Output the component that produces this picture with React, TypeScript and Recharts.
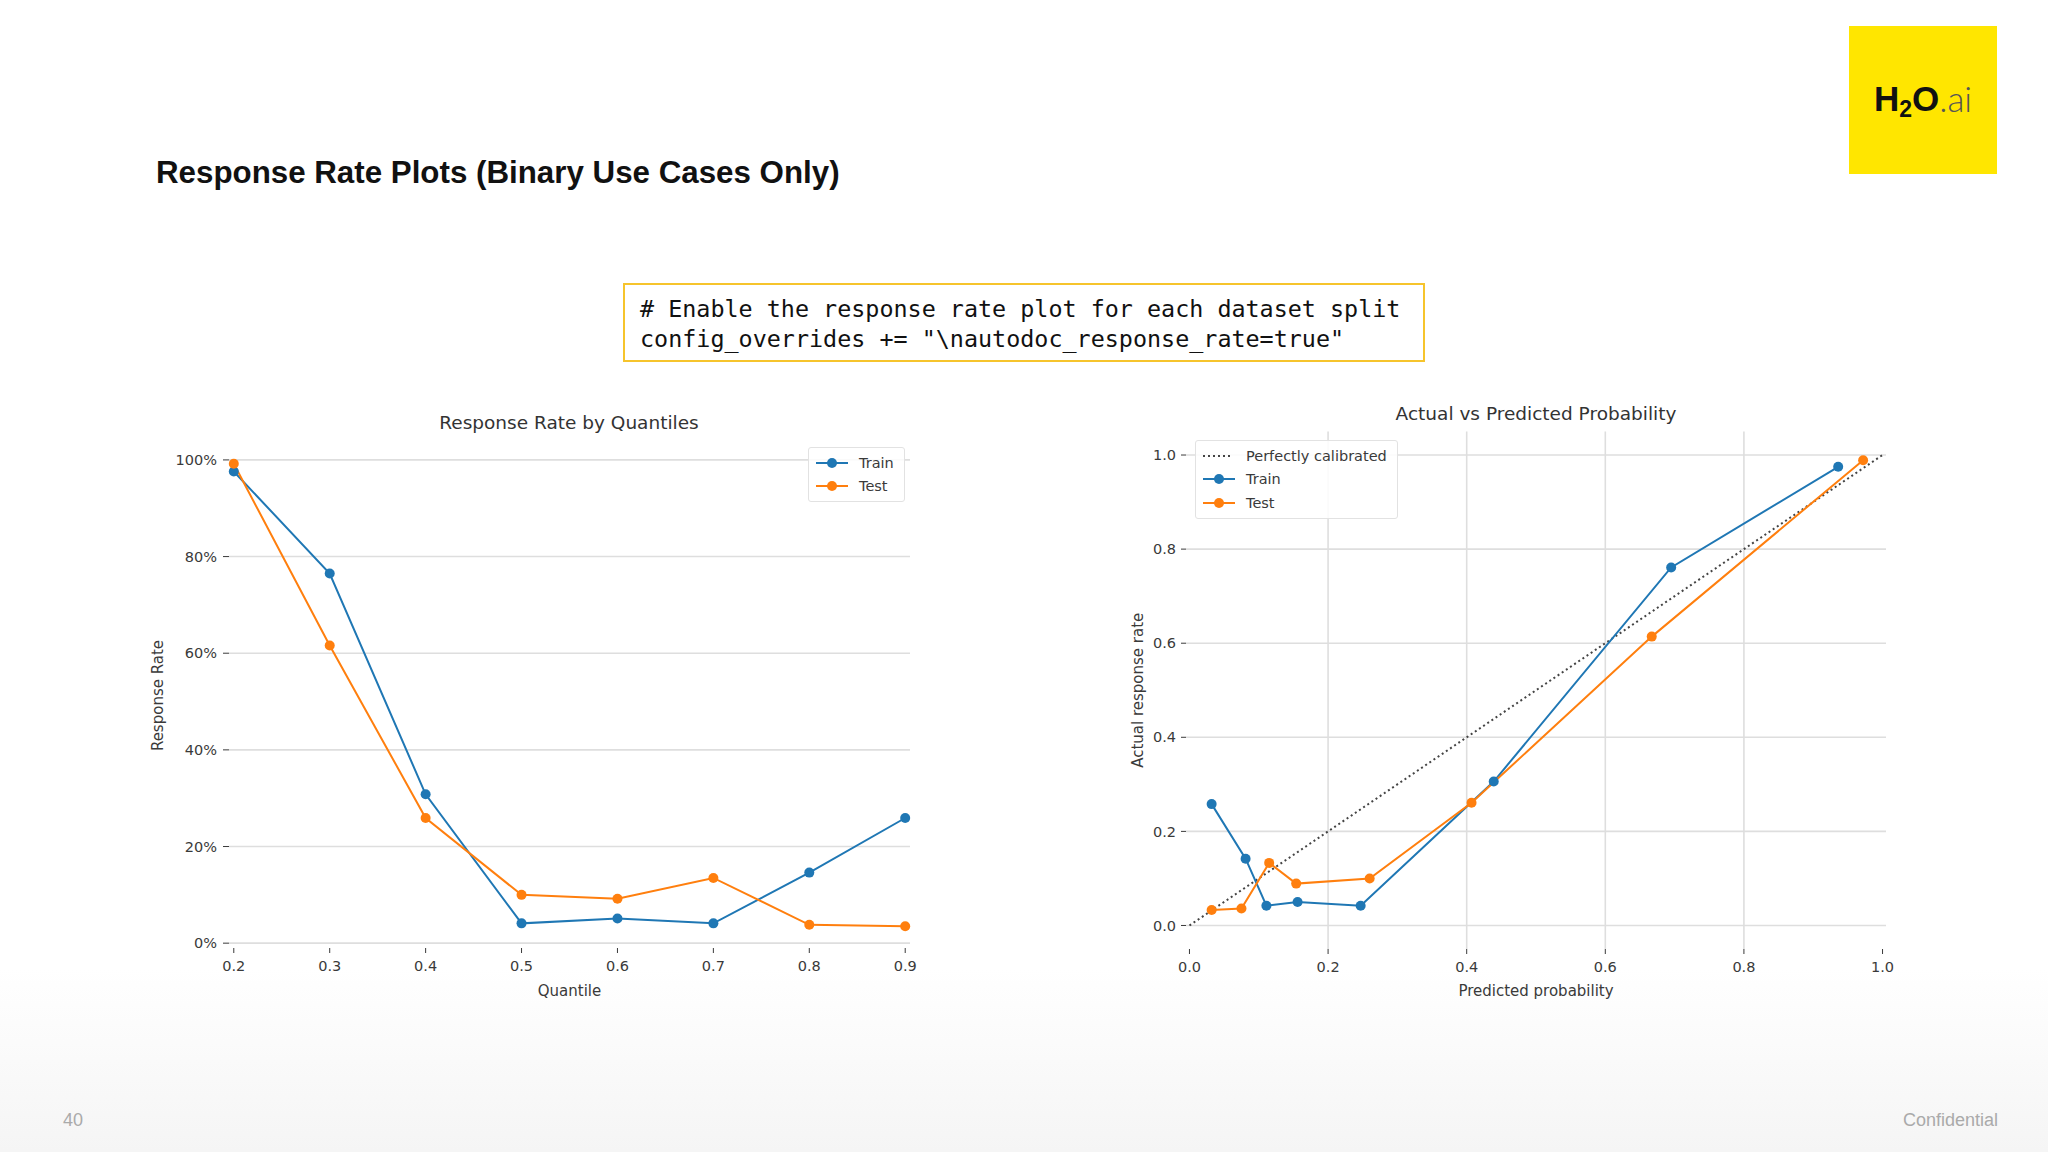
import React from "react";
import {
  Legend,
  Line,
  LineChart,
  ReferenceLine,
  XAxis,
  YAxis,
} from "recharts";

// ---- data ----
const quantiles = [0.2, 0.3, 0.4, 0.5, 0.6, 0.7, 0.8, 0.9];
const trainRate = [97.6, 76.5, 30.8, 4.1, 5.1, 4.1, 14.6, 25.9];
const testRate = [99.2, 61.6, 25.9, 10.0, 9.2, 13.5, 3.8, 3.5];
const rateTicks = [0, 20, 40, 60, 80, 100];

const trainPredicted = [0.032, 0.081, 0.111, 0.156, 0.247, 0.439, 0.695, 0.936];
const trainActual = [0.258, 0.142, 0.042, 0.05, 0.042, 0.306, 0.761, 0.975];
const testPredicted = [0.032, 0.075, 0.115, 0.154, 0.26, 0.407, 0.667, 0.972];
const testActual = [0.033, 0.036, 0.133, 0.089, 0.1, 0.261, 0.614, 0.989];
const calibratedX = [0, 1];
const probTicks = [0, 0.2, 0.4, 0.6, 0.8, 1.0];
const probGridX = [0.2, 0.4, 0.6, 0.8];

const BLUE = "#1f77b4";
const ORANGE = "#ff7f0e";
const GRID = "#dedede";
const TICK = "#3a3a3a";
const MPL_FONT = "'DejaVu Sans', sans-serif";

const rateData = quantiles.map((q, i) => ({ q, train: trainRate[i], test: testRate[i] }));
const trainCal = trainPredicted.map((x, i) => ({ x, y: trainActual[i] }));
const testCal = testPredicted.map((x, i) => ({ x, y: testActual[i] }));
const diagonal = calibratedX.map((x) => ({ x, y: x }));

const tickStyle = { fill: TICK, fontSize: 14.5, fontFamily: MPL_FONT };
const labelStyle = { fill: TICK, fontSize: 15, fontFamily: MPL_FONT, textAnchor: "middle" as const };

function LegendRow({ color, label, dotted }: { color: string; label: string; dotted?: boolean }) {
  return (
    <div style={{ display: "flex", alignItems: "center", height: 23.5 }}>
      <svg width={34} height={12} style={{ marginRight: 10 }}>
        {dotted ? (
          <line x1={1} y1={6} x2={31} y2={6} stroke="#444" strokeWidth={2} strokeDasharray="2 3" />
        ) : (
          <>
            <line x1={1} y1={6} x2={33} y2={6} stroke={color} strokeWidth={2} />
            <circle cx={17} cy={6} r={5} fill={color} />
          </>
        )}
      </svg>
      <span>{label}</span>
    </div>
  );
}

function legendBox(items: { color: string; label: string; dotted?: boolean }[]) {
  return () => (
    <div
      style={{
        border: "1.5px solid #e2e2e2",
        borderRadius: 3,
        background: "rgba(255,255,255,0.85)",
        padding: "3px 10px 3px 6px",
        fontFamily: MPL_FONT,
        fontSize: 14.5,
        color: TICK,
        whiteSpace: "nowrap",
      }}
    >
      {items.map((it) => (
        <LegendRow key={it.label} {...it} />
      ))}
    </div>
  );
}

function RateChart() {
  return (
    <LineChart
      width={780}
      height={610}
      data={rateData}
      margin={{ top: 43, right: 10, bottom: 0, left: 0 }}
    >
      <XAxis
        dataKey="q"
        type="number"
        domain={[0.195, 0.905]}
        ticks={quantiles}
        tickFormatter={(v: number) => v.toFixed(1)}
        axisLine={false}
        tickLine={{ stroke: TICK }}
        tickSize={5}
        tickMargin={8}
        height={62}
        tick={tickStyle}
        label={{ value: "Quantile", position: "insideBottom", offset: 14, style: labelStyle }}
      />
      <YAxis
        type="number"
        domain={[-1, 103.5]}
        ticks={rateTicks}
        tickFormatter={(v: number) => `${v}%`}
        axisLine={false}
        tickLine={{ stroke: TICK }}
        tickSize={6}
        tickMargin={6}
        width={89}
        tick={tickStyle}
        label={{ value: "Response Rate", angle: -90, position: "insideLeft", offset: 18, style: labelStyle }}
      />
      {/* horizontal grid */}
      {rateTicks.map((t) => (
        <ReferenceLine key={t} y={t} stroke={GRID} strokeWidth={1.6} />
      ))}
      <Legend
        layout="vertical"
        verticalAlign="middle"
        align="center"
        wrapperStyle={{ top: 47, left: 668, width: "auto" }}
        content={legendBox([
          { color: BLUE, label: "Train" },
          { color: ORANGE, label: "Test" },
        ])}
      />
      <Line
        dataKey="train"
        name="Train"
        stroke={BLUE}
        strokeWidth={2}
        dot={{ r: 5, fill: BLUE, stroke: BLUE, strokeWidth: 0 }}
        isAnimationActive={false}
      />
      <Line
        dataKey="test"
        name="Test"
        stroke={ORANGE}
        strokeWidth={2}
        dot={{ r: 5, fill: ORANGE, stroke: ORANGE, strokeWidth: 0 }}
        isAnimationActive={false}
      />
    </LineChart>
  );
}

function CalibrationChart() {
  return (
    <LineChart width={800} height={615} margin={{ top: 36.5, right: 24, bottom: 0, left: 0 }}>
      <XAxis
        dataKey="x"
        type="number"
        domain={[-0.005, 1.005]}
        ticks={probTicks}
        tickFormatter={(v: number) => v.toFixed(1)}
        axisLine={false}
        tickLine={{ stroke: TICK }}
        tickSize={5}
        tickMargin={8}
        height={61}
        tick={tickStyle}
        allowDuplicatedCategory={false}
        label={{ value: "Predicted probability", position: "insideBottom", offset: 14, style: labelStyle }}
      />
      <YAxis
        type="number"
        domain={[-0.05, 1.05]}
        ticks={probTicks}
        tickFormatter={(v: number) => v.toFixed(1)}
        axisLine={false}
        tickLine={{ stroke: TICK }}
        tickSize={5}
        tickMargin={5}
        width={76}
        tick={tickStyle}
        label={{ value: "Actual response rate", angle: -90, position: "insideLeft", offset: 28, style: labelStyle }}
      />
      {/* grid */}
      {probTicks.map((t) => (
        <ReferenceLine key={`h${t}`} y={t} stroke={GRID} strokeWidth={1.6} />
      ))}
      {probGridX.map((t) => (
        <ReferenceLine key={`v${t}`} x={t} stroke={GRID} strokeWidth={1.6} />
      ))}
      <Legend
        layout="vertical"
        verticalAlign="middle"
        align="center"
        wrapperStyle={{ top: 45, left: 85, width: "auto" }}
        content={legendBox([
          { color: "#444", label: "Perfectly calibrated", dotted: true },
          { color: BLUE, label: "Train" },
          { color: ORANGE, label: "Test" },
        ])}
      />
      <Line
        data={diagonal}
        dataKey="y"
        name="Perfectly calibrated"
        stroke="#444"
        strokeWidth={2}
        strokeDasharray="2 3"
        dot={false}
        isAnimationActive={false}
      />
      <Line
        data={trainCal}
        dataKey="y"
        name="Train"
        stroke={BLUE}
        strokeWidth={2}
        dot={{ r: 5, fill: BLUE, stroke: BLUE, strokeWidth: 0 }}
        isAnimationActive={false}
      />
      <Line
        data={testCal}
        dataKey="y"
        name="Test"
        stroke={ORANGE}
        strokeWidth={2}
        dot={{ r: 5, fill: ORANGE, stroke: ORANGE, strokeWidth: 0 }}
        isAnimationActive={false}
      />
    </LineChart>
  );
}

const chartTitle: React.CSSProperties = {
  position: "absolute",
  fontFamily: MPL_FONT,
  fontSize: 18.5,
  color: "#333",
  textAlign: "center",
  whiteSpace: "nowrap",
};

export default function App() {
  return (
    <div
      style={{
        position: "absolute",
        left: 0,
        top: 0,
        width: 2048,
        height: 1152,
        overflow: "hidden",
        background:
          "linear-gradient(to bottom, #ffffff 0%, #ffffff 84%, #f5f5f5 100%)",
        fontFamily: "'Liberation Sans', Arial, sans-serif",
      }}
    >
      {/* slide title */}
      <div
        style={{
          position: "absolute",
          left: 156,
          top: 155,
          fontSize: 31.3,
          fontWeight: 700,
          color: "#111",
          whiteSpace: "nowrap",
        }}
      >
        Response Rate Plots (Binary Use Cases Only)
      </div>

      {/* logo */}
      <div
        style={{
          position: "absolute",
          left: 1849,
          top: 26,
          width: 148,
          height: 148,
          background: "#ffe600",
          display: "flex",
          alignItems: "center",
          justifyContent: "center",
          fontSize: 35,
          lineHeight: 1,
          paddingBottom: 4,
          boxSizing: "border-box",
        }}
      >
        <span style={{ fontWeight: 900, color: "#111" }}>H</span>
        <span style={{ fontWeight: 900, color: "#111", fontSize: 23, position: "relative", top: 11 }}>2</span>
        <span style={{ fontWeight: 900, color: "#111" }}>O</span>
        <span style={{ fontWeight: 300, color: "#555", fontFamily: "Lato, sans-serif" }}>.ai</span>
      </div>

      {/* code box */}
      <div
        style={{
          position: "absolute",
          left: 623,
          top: 283,
          width: 802,
          height: 79,
          boxSizing: "border-box",
          border: "2.5px solid #f6c42c",
          padding: "9px 0 0 15px",
          fontFamily: "'DejaVu Sans Mono', 'Liberation Mono', monospace",
          fontSize: 23.4,
          lineHeight: "30px",
          color: "#111",
          whiteSpace: "pre",
        }}
      >
        {"# Enable the response rate plot for each dataset split\nconfig_overrides += \"\\nautodoc_response_rate=true\""}
      </div>

      {/* left chart */}
      <div style={{ ...chartTitle, left: 369, width: 400, top: 412 }}>Response Rate by Quantiles</div>
      <div style={{ position: "absolute", left: 140, top: 400 }}>
        <RateChart />
      </div>

      {/* right chart */}
      <div style={{ ...chartTitle, left: 1336, width: 400, top: 403 }}>Actual vs Predicted Probability</div>
      <div style={{ position: "absolute", left: 1110, top: 395 }}>
        <CalibrationChart />
      </div>

      {/* footer */}
      <div style={{ position: "absolute", left: 63, top: 1110, fontSize: 18, color: "#aaa" }}>40</div>
      <div style={{ position: "absolute", right: 50, top: 1110, fontSize: 18, color: "#aaa" }}>Confidential</div>
    </div>
  );
}
